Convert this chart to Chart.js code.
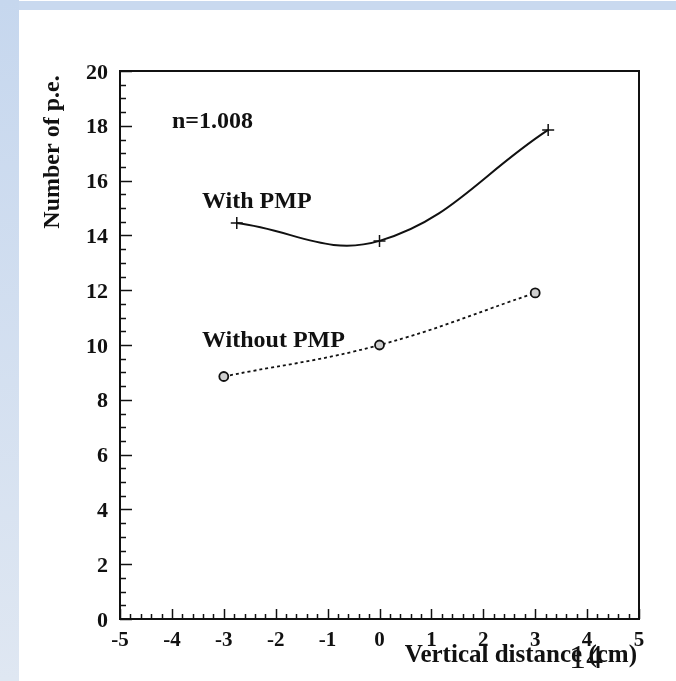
<!DOCTYPE html>
<html lang="en">

<head>
    <meta charset="UTF-8">
    <title>Number of p.e. vs vertical distance</title>
    <script src="https://cdn.jsdelivr.net/npm/chart.js"></script>
    <style>
        body {
            margin: 0;
            background-color: #ffffff;
        }

        #slide {
            position: relative;
            width: 676px;
            height: 681px;
            overflow: hidden;
        }

        .bar-left {
            position: absolute;
            left: 0;
            top: 0;
            width: 19px;
            height: 681px;
            background: linear-gradient(#c6d7ee, #dfe7f2);
        }

        .bar-top {
            position: absolute;
            left: 19px;
            top: 1px;
            width: 657px;
            height: 9px;
            background-color: #c9d9ef;
        }

        canvas {
            position: absolute;
            left: 0;
            top: 0;
        }
    </style>
</head>

<body>
    <div id="slide">
        <div class="bar-left"></div>
        <div class="bar-top"></div>
        <canvas id="peChart" width="676" height="681"></canvas>
    </div>

    <script>
        // axis ranges
        const xRange = [-5, 5];
        const yRange = [0, 20];

        // with PMP (solid curve, + markers)
        const withX = [-2.75, 0, 3.25];
        const withY = [14.45, 13.8, 17.85];

        // without PMP (dotted curve, open circles)
        const withoutX = [-3, 0, 3];
        const withoutY = [8.85, 10.0, 11.9];

        const serif = "'Liberation Serif', 'Times New Roman', serif";
        const ink = "#111111";

        function toPoints(xs, ys) {
            return xs.map((x, i) => ({ x: x, y: ys[i] }));
        }

        // frame, inward ticks and the text labels
        const framePlugin = {
            id: "frame",
            afterDraw(chart) {
                const ctx = chart.ctx;
                const area = chart.chartArea;
                const xs = chart.scales.x;
                const ys = chart.scales.y;

                ctx.save();
                ctx.strokeStyle = ink;
                ctx.lineWidth = 1.5;

                // bottom axis: major every 1, minor every 0.2
                for (let i = 0; i <= 50; i++) {
                    const v = xRange[0] + i * 0.2;
                    const px = Math.round(xs.getPixelForValue(v)) + 0.5;
                    const len = i % 5 === 0 ? 10 : 5;
                    ctx.beginPath();
                    ctx.moveTo(px, area.bottom);
                    ctx.lineTo(px, area.bottom - len);
                    ctx.stroke();
                }
                // left axis: major every 2, minor every 0.5
                for (let i = 0; i <= 40; i++) {
                    const v = yRange[0] + i * 0.5;
                    const py = Math.round(ys.getPixelForValue(v)) + 0.5;
                    const len = i % 4 === 0 ? 12 : 6;
                    ctx.beginPath();
                    ctx.moveTo(area.left, py);
                    ctx.lineTo(area.left + len, py);
                    ctx.stroke();
                }

                ctx.lineWidth = 2;
                ctx.strokeRect(area.left, area.top, area.right - area.left, area.bottom - area.top);

                ctx.fillStyle = ink;
                ctx.font = "bold 24px " + serif;
                ctx.textBaseline = "alphabetic";
                ctx.textAlign = "left";
                ctx.fillText("n=1.008", 172, 128);
                ctx.fillText("With PMP", 202, 208);
                ctx.fillText("Without PMP", 202, 347);

                ctx.font = "bold 25px " + serif;
                ctx.textAlign = "right";
                ctx.fillText("Vertical distance (cm)", 637, 662);

                ctx.save();
                ctx.font = "bold 24px " + serif;
                ctx.translate(59, 152);
                ctx.rotate(-Math.PI / 2);
                ctx.textAlign = "center";
                ctx.fillText("Number of p.e.", 0, 0);
                ctx.restore();

                // page number
                ctx.textAlign = "left";
                ctx.font = "34px " + serif;
                ctx.fillText("14", 569, 668);

                ctx.restore();
            }
        };

        new Chart(document.getElementById("peChart"), {
            type: "line",
            data: {
                datasets: [{
                    label: "With PMP",
                    data: toPoints(withX, withY),
                    borderColor: ink,
                    borderWidth: 2,
                    tension: 0.4,
                    fill: false,
                    pointStyle: "cross",
                    pointRadius: 6,
                    pointBorderWidth: 1.5,
                    pointBorderColor: ink
                }, {
                    label: "Without PMP",
                    data: toPoints(withoutX, withoutY),
                    borderColor: ink,
                    borderWidth: 1.8,
                    borderDash: [3, 3],
                    tension: 0.4,
                    fill: false,
                    pointStyle: "circle",
                    pointRadius: 4.5,
                    pointBorderWidth: 1.8,
                    pointBorderColor: ink,
                    pointBackgroundColor: "#cfcfcf"
                }]
            },
            options: {
                responsive: false,
                animation: false,
                devicePixelRatio: 1,
                layout: {
                    padding: { left: 0, top: 71, right: 37, bottom: 0 }
                },
                plugins: {
                    legend: { display: false },
                    tooltip: { enabled: false }
                },
                scales: {
                    x: {
                        type: "linear",
                        min: xRange[0],
                        max: xRange[1],
                        grid: { display: false, drawTicks: false },
                        border: { display: false },
                        ticks: {
                            stepSize: 1,
                            autoSkip: false,
                            maxRotation: 0,
                            padding: 9,
                            color: ink,
                            font: { family: serif, size: 21, weight: "bold" }
                        },
                        afterFit(scale) {
                            scale.height = 62;
                        }
                    },
                    y: {
                        type: "linear",
                        min: yRange[0],
                        max: yRange[1],
                        grid: { display: false, drawTicks: false },
                        border: { display: false },
                        ticks: {
                            stepSize: 2,
                            padding: 12,
                            labelOffset: 2,
                            color: ink,
                            font: { family: serif, size: 22, weight: "bold" }
                        },
                        afterFit(scale) {
                            scale.width = 120;
                        }
                    }
                }
            },
            plugins: [framePlugin]
        });
    </script>
</body>

</html>
